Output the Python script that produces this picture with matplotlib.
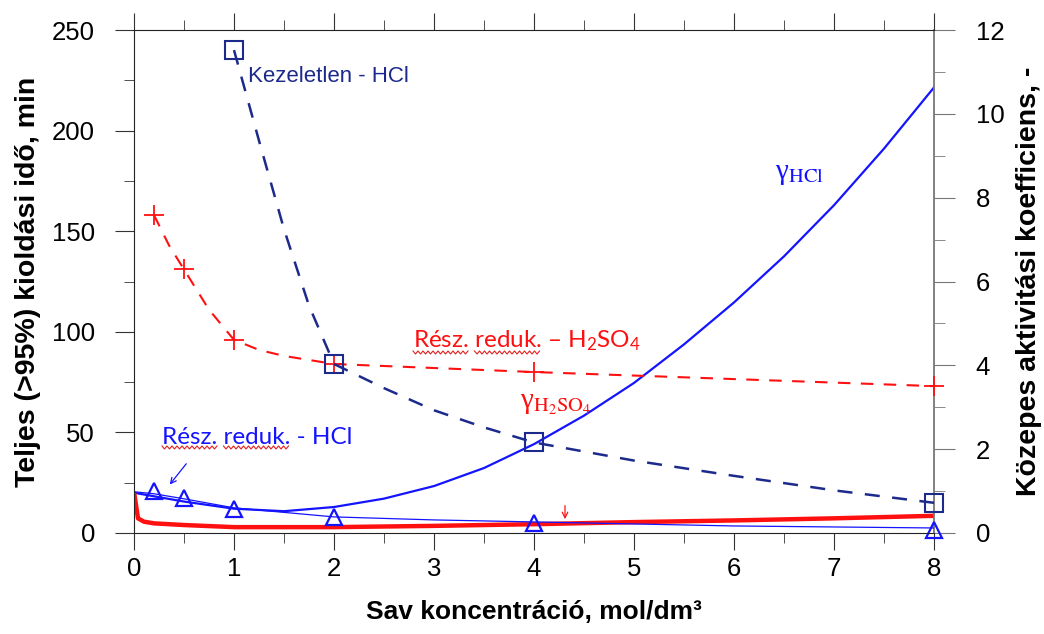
import numpy as np
import matplotlib
matplotlib.use("Agg")
import matplotlib.pyplot as plt
from matplotlib.ticker import MultipleLocator
from matplotlib.lines import Line2D

plt.rcParams['font.family'] = ['Liberation Sans', 'DejaVu Sans']
plt.rcParams['mathtext.fontset'] = 'custom'
plt.rcParams['mathtext.rm'] = 'Lato'
plt.rcParams['mathtext.it'] = 'Lato:italic'
plt.rcParams['mathtext.bf'] = 'Lato:bold'

# untreated ore, HCl (left axis, min)
untreated_conc = [1, 2, 4, 8]
untreated_time = [240, 84, 45, 15]
untreated_fit_conc = [1, 1.25, 1.5, 1.75, 2, 2.5, 3, 3.5, 4, 5, 6, 7, 8]
untreated_fit_time = [240, 195, 151, 113, 84, 72, 61, 52.5, 45, 36, 28.4, 21.2, 15]

# partially reduced, H2SO4
red_h2so4_conc = [0.2, 0.5, 1, 2, 4, 8]
red_h2so4_time = [158, 131, 96, 84, 80, 73]
red_h2so4_fit_conc = [0.2, 0.35, 0.5, 0.75, 1, 1.25, 1.5, 2, 3, 4, 6, 8]
red_h2so4_fit_time = [158, 143, 131, 111, 96, 91, 88, 84, 82, 80, 76.5, 73]

# partially reduced, HCl + its trend line
red_hcl_conc = [0.2, 0.5, 1, 2, 4, 8]
red_hcl_time = [21, 17.5, 12, 8, 5, 1.5]
red_hcl_fit_conc = [0, 0.2, 0.5, 1, 2, 3, 4, 6, 8]
red_hcl_fit_time = [20.5, 19.5, 17, 12.5, 8, 6.5, 5.5, 3.5, 2.5]

# mean activity coefficients (right axis)
gamma_hcl_conc = [0, 0.5, 1, 1.5, 2, 2.5, 3, 3.5, 4, 4.5, 5, 5.5, 6, 6.5, 7, 7.5, 8]
gamma_hcl = [0.96, 0.75, 0.58, 0.52, 0.62, 0.82, 1.12, 1.55, 2.12, 2.8, 3.58,
             4.5, 5.5, 6.6, 7.82, 9.17, 10.63]
gamma_h2so4_conc = [0, 0.04, 0.1, 0.2, 0.5, 1, 2, 3, 4, 5, 6, 7, 8]
gamma_h2so4 = [0.98, 0.35, 0.27, 0.23, 0.19, 0.14, 0.14, 0.17, 0.21, 0.26,
               0.3, 0.35, 0.41]

x_ticks = [0, 1, 2, 3, 4, 5, 6, 7, 8]

BLUE = '#1414ff'
NAVY = '#1c2a8c'
RED = '#ff1010'

fig = plt.figure(figsize=(10.44, 6.34), dpi=100)
ax = fig.add_axes([134 / 1044, 101 / 634, 800 / 1044, 503 / 634])
ax2 = ax.twinx()
ax.set_zorder(ax2.get_zorder() + 1)
ax.patch.set_visible(False)

# activity coefficients
ax2.plot(gamma_hcl_conc, gamma_hcl, color=BLUE, lw=1.6)
ax2.plot(gamma_h2so4_conc, gamma_h2so4, color=RED, lw=3.2, solid_capstyle='butt')

# leaching times
ax.plot(red_hcl_fit_conc, red_hcl_fit_time, color=BLUE, lw=0.9)
ax.plot(red_hcl_conc, red_hcl_time, ls='none', marker='^', ms=12, mfc='none',
        mec=BLUE, mew=1.6, clip_on=False)
ax.plot(red_h2so4_fit_conc, red_h2so4_fit_time, color=RED, lw=1.5, ls=(0, (6, 5)))
ax.plot(red_h2so4_conc, red_h2so4_time, ls='none', color=RED, marker='+', ms=14,
        mew=1.3, clip_on=False)
ax.plot(untreated_fit_conc, untreated_fit_time, color=NAVY, lw=1.8, ls=(0, (6, 5)))
ax.plot(untreated_conc, untreated_time, ls='none', marker='s', ms=13, mfc='none',
        mec=NAVY, mew=1.5, clip_on=False)

ax.set_xlim(0, 8)
ax.set_ylim(0, 250)
ax2.set_ylim(0, 12)
ax.set_xticks(x_ticks)
ax.xaxis.set_minor_locator(MultipleLocator(0.5))
ax.yaxis.set_major_locator(MultipleLocator(50))
ax.yaxis.set_minor_locator(MultipleLocator(25))
ax2.yaxis.set_major_locator(MultipleLocator(2))
ax2.yaxis.set_minor_locator(MultipleLocator(1))

ax.tick_params(axis='x', which='both', direction='out', top=True, labelsize=18.5,
               pad=5, color='#333333')
ax.tick_params(axis='x', which='major', length=12)
ax.tick_params(axis='x', which='minor', length=7)
ax.tick_params(axis='y', which='both', direction='out', labelsize=18.5, pad=14,
               color='#333333')
ax.tick_params(axis='y', which='major', length=14)
ax.tick_params(axis='y', which='minor', length=7)
ax2.tick_params(axis='y', which='both', direction='out', right=True, labelsize=18.5,
                pad=15, color='#777777')
ax2.tick_params(axis='y', which='major', length=15)
ax2.tick_params(axis='y', which='minor', length=8)

for side in ['left', 'top', 'bottom']:
    ax.spines[side].set_color('#222222')
ax.spines['right'].set_visible(False)
for side in ['left', 'top', 'bottom']:
    ax2.spines[side].set_visible(False)
ax2.spines['right'].set_color('#777777')
ax2.spines['right'].set_linewidth(1.3)

ax.set_xlabel('Sav koncentráció, mol/dm³', fontsize=19, fontweight='bold', labelpad=14)
ax.set_ylabel('Teljes (>95%) kioldási idő, min', fontsize=20.5, fontweight='bold',
              labelpad=8)
ax2.set_ylabel('Közepes aktivitási koefficiens, -', fontsize=20.5, fontweight='bold',
               labelpad=8)

# series labels
ax.text(1.14, 227, 'Kezeletlen - HCl', color=NAVY, fontsize=16, va='center')
t_h2so4 = ax.text(2.79, 92, 'Rész. reduk. – H$_2$SO$_4$', color=RED, fontsize=17.5,
                  family='Lato', va='baseline')
t_hcl = ax.text(0.28, 44, 'Rész. reduk. - HCl', color=BLUE, fontsize=17.5,
                family='Lato', va='baseline')
ax.text(6.41, 176, r'γ$_{\mathrm{HCl}}$', color=BLUE, fontsize=21,
        family='Liberation Serif', math_fontfamily='stix', va='baseline')
ax.text(3.86, 62, r'γ$_{\mathrm{H_2SO_4}}$', color=RED, fontsize=21,
        family='Liberation Serif', math_fontfamily='stix', va='baseline')

ax.annotate('', xy=(0.34, 23), xytext=(0.54, 35.5),
            arrowprops=dict(arrowstyle='->', color=BLUE, lw=0.9))
ax.annotate('', xy=(4.31, 5.5), xytext=(4.31, 15),
            arrowprops=dict(arrowstyle='->', color=RED, lw=0.9))

# spell-check style wavy underline under the first two words of a label
fig.canvas.draw()
renderer = fig.canvas.get_renderer()


def squiggle(txt):
    bb = txt.get_window_extent(renderer)
    prop = txt.get_fontproperties()
    x = bb.x0
    y = bb.y0 + 1
    for word in ['Rész.', 'reduk.']:
        w, h, d = renderer.get_text_width_height_descent(word, prop, ismath=False)
        sw, _, _ = renderer.get_text_width_height_descent(word + ' ', prop, ismath=False)
        xs = np.arange(x, x + w, 2.5)
        ys = y + np.where(np.arange(len(xs)) % 2 == 0, 1.5, -1.5)
        fig.add_artist(Line2D(xs, ys, transform=None, color='#e02020', lw=0.8))
        x += sw


squiggle(t_h2so4)
squiggle(t_hcl)

fig.savefig('out.png', dpi=100)
